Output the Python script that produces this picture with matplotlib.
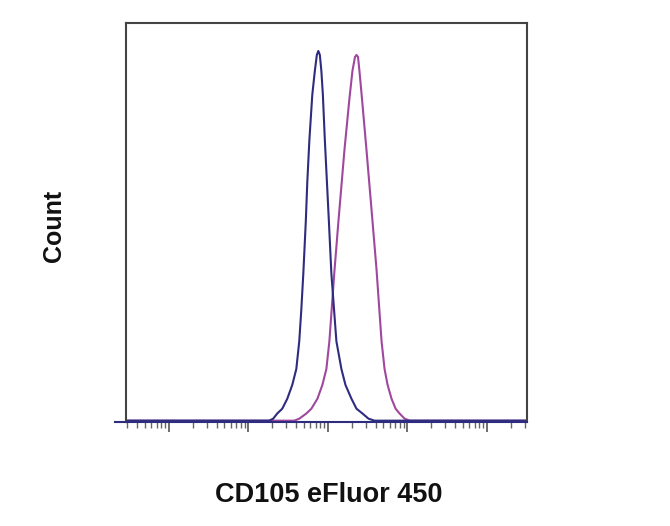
import numpy as np
import matplotlib
matplotlib.use("Agg")
import matplotlib.pyplot as plt
from matplotlib.ticker import LogLocator, NullFormatter

plt.rcParams['font.family'] = ['Liberation Sans', 'DejaVu Sans']

# log10 of fluorescence intensity and relative count (fraction of axis height)
blue_log = [0.46, 2.262, 2.312, 2.363, 2.426, 2.489, 2.552, 2.603, 2.640, 2.666, 2.691,
            2.722, 2.741, 2.767, 2.804, 2.836, 2.861, 2.880, 2.899, 2.918, 2.937, 2.962,
            3.013, 3.044, 3.107, 3.170, 3.221, 3.297, 3.360, 3.435, 3.511, 3.587, 5.5]
blue_cnt = [0.0, 0.0, 0.005, 0.018, 0.03, 0.055, 0.09, 0.13, 0.2, 0.28, 0.37,
            0.5, 0.6, 0.705, 0.82, 0.88, 0.92, 0.93, 0.92, 0.88, 0.82, 0.705,
            0.5, 0.37, 0.2, 0.13, 0.09, 0.055, 0.03, 0.018, 0.005, 0.0, 0.0]

magenta_log = [0.46, 2.577, 2.640, 2.729, 2.792, 2.868, 2.931, 2.981, 3.019, 3.082, 3.132,
               3.208, 3.271, 3.309, 3.341, 3.360, 3.379, 3.397, 3.429, 3.486, 3.562,
               3.612, 3.675, 3.713, 3.751, 3.801, 3.852, 3.902, 3.965, 4.028, 5.5]
magenta_cnt = [0.0, 0.0, 0.005, 0.018, 0.03, 0.055, 0.09, 0.13, 0.2, 0.375, 0.5,
               0.68, 0.81, 0.88, 0.915, 0.92, 0.915, 0.88, 0.81, 0.68, 0.5,
               0.38, 0.2, 0.13, 0.09, 0.055, 0.03, 0.018, 0.005, 0.0, 0.0]

fig = plt.figure(figsize=(6.7, 5.26), dpi=100)
ax = fig.add_axes([0.188, 0.198, 0.598, 0.758])

ax.plot(10 ** np.array(magenta_log), magenta_cnt, color='#a0479e', lw=1.5)
ax.plot(10 ** np.array(blue_log), blue_cnt, color='#2e2c7e', lw=1.5)

ax.set_xscale('log')
ax.set_xlim(10 ** 0.46, 10 ** 5.5)
ax.set_ylim(-0.003, 1.0)

ax.xaxis.set_major_locator(LogLocator(base=10, numticks=10))
ax.xaxis.set_minor_locator(LogLocator(base=10, subs=np.arange(2, 10), numticks=100))
ax.xaxis.set_major_formatter(NullFormatter())
ax.xaxis.set_minor_formatter(NullFormatter())
ax.tick_params(axis='x', which='major', direction='out', length=7, width=1.2, color='#555555')
ax.tick_params(axis='x', which='minor', direction='out', length=4, width=1.0, color='#666666')
ax.set_yticks([])

for s in ax.spines.values():
    s.set_color('#444444')
    s.set_linewidth(1.5)
ax.spines['bottom'].set_color('#2e2c7e')

# axis line runs a little past the left edge
ax.plot([-0.028, 0], [0, 0], transform=ax.transAxes, color='#2e2c7e', lw=1.5, clip_on=False)

fig.text(0.081, 0.57, 'Count', rotation=90, ha='center', va='center',
         fontsize=18, fontweight='bold', color='#111111')
fig.text(0.491, 0.059, 'CD105 eFluor 450', ha='center', va='center',
         fontsize=19.5, fontweight='bold', color='#111111')

fig.savefig('out.png', dpi=100)
